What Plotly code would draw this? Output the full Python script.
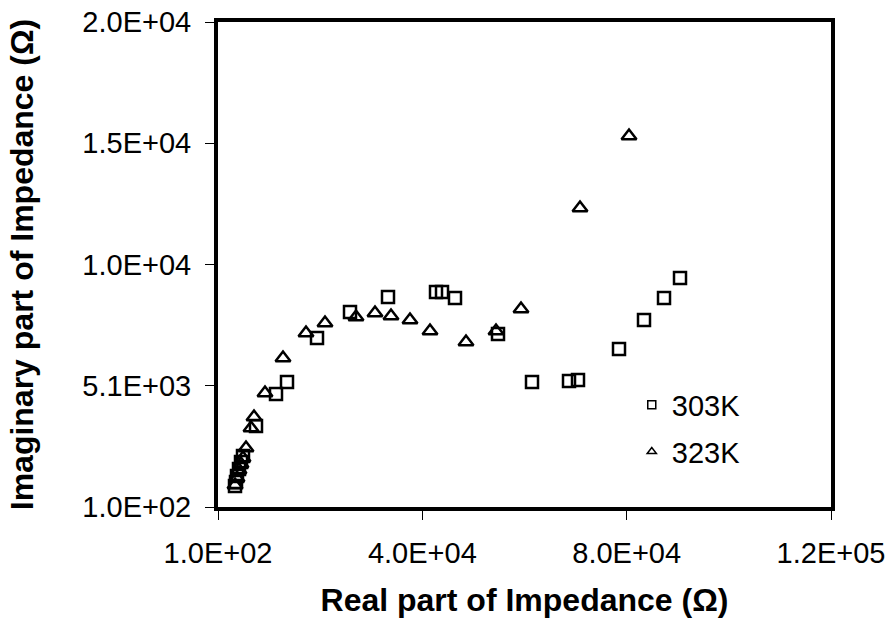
import plotly.graph_objects as go

# 303K series (real, imaginary)
x303 = [3428, 3624, 3819, 4211, 4602, 4994, 7539, 11454, 13607, 19480, 25940,
        33379, 42776, 43950, 46495, 54913, 61569, 68812, 70574, 78600, 83494,
        87410, 90542]
y303 = [962, 1126, 1372, 1659, 1946, 2193, 3423, 4736, 5229, 7034, 8101,
        8716, 8921, 8921, 8675, 7198, 5229, 5270, 5311, 6583, 7773, 8675, 9496]

# 323K series
x323 = [3428, 3819, 4211, 4602, 4994, 5581, 6560, 7147, 9301, 12824, 17327,
        21046, 27115, 30835, 33967, 37686, 41602, 48649, 54522, 59416, 70966,
        80558]
y323 = [1003, 1290, 1618, 1864, 2110, 2521, 3341, 3793, 4777, 6213, 7239,
        7650, 7896, 8060, 7937, 7773, 7321, 6870, 7321, 8224, 12368, 15322]

xtick_vals = [100, 40100, 80100, 120100]
xtick_text = ["1.0E+02", "4.0E+04", "8.0E+04", "1.2E+05"]
ytick_vals = [100, 5075, 10050, 15025, 20000]
ytick_text = ["1.0E+02", "5.1E+03", "1.0E+04", "1.5E+04", "2.0E+04"]

FONT = "Liberation Sans, Arial, sans-serif"

fig = go.Figure()
fig.add_trace(go.Scatter(
    x=x303, y=y303, mode="markers", name="303K", showlegend=False,
    marker=dict(symbol="square-open", size=12, color="black",
                line=dict(width=2.5, color="black"))))
fig.add_trace(go.Scatter(
    x=x323, y=y323, mode="markers", name="323K", showlegend=False,
    marker=dict(symbol="triangle-up-open", size=13, color="black",
                line=dict(width=2.5, color="black"))))
# legend entries (smaller symbols as in the reference)
fig.add_trace(go.Scatter(
    x=[None], y=[None], mode="markers", name="303K", legendgroup="a",
    marker=dict(symbol="square-open", size=8, color="black",
                line=dict(width=1.5, color="black"))))
fig.add_trace(go.Scatter(
    x=[None], y=[None], mode="markers", name="323K", legendgroup="b",
    marker=dict(symbol="triangle-up-open", size=8, color="black",
                line=dict(width=1.5, color="black"))))

fig.update_layout(
    width=885, height=632,
    margin=dict(l=218, r=54, t=22, b=125, autoexpand=False),
    paper_bgcolor="white", plot_bgcolor="white",
    font=dict(family=FONT, color="black", size=29),
    legend=dict(x=0.675, y=0.263, xanchor="left", yanchor="top",
                bgcolor="rgba(0,0,0,0)", borderwidth=0,
                font=dict(size=29, family=FONT, color="black"),
                tracegroupgap=6, itemwidth=30),
    xaxis=dict(
        range=[100, 120100], tickmode="array", tickvals=xtick_vals,
        ticktext=xtick_text, showgrid=False, zeroline=False,
        showline=True, linecolor="black", linewidth=4, mirror=True,
        ticks="outside", ticklen=9, tickwidth=1, tickcolor="black",
        tickfont=dict(size=29, family=FONT), ticklabelstandoff=8,
        ticklabeloverflow="allow",
        title=dict(text="<b>Real part of Impedance (Ω)</b>",
                   font=dict(size=32, family=FONT), standoff=22)),
    yaxis=dict(
        range=[100, 20000], tickmode="array", tickvals=ytick_vals,
        ticktext=ytick_text, showgrid=False, zeroline=False,
        showline=True, linecolor="black", linewidth=4, mirror=True,
        ticks="outside", ticklen=9, tickwidth=1, tickcolor="black",
        tickfont=dict(size=29, family=FONT), ticklabelstandoff=8,
        ticklabeloverflow="allow",
        title=dict(text="<b>Imaginary part of Impedance (Ω)</b>",
                   font=dict(size=32, family=FONT), standoff=40)),
)

fig.write_html(
    "out.html",
    config={"displayModeBar": False},
    post_script="document.body.style.margin='0';document.body.style.overflow='hidden';",
)
